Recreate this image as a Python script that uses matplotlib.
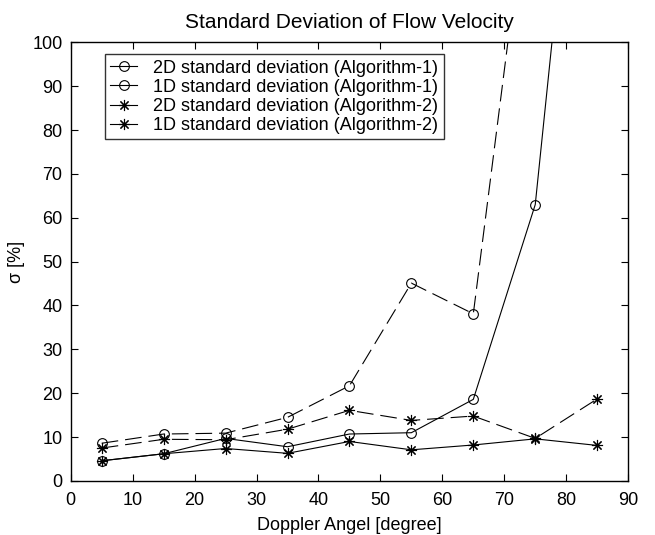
import numpy as np
import matplotlib
matplotlib.use("Agg")
import matplotlib.pyplot as plt
from matplotlib.lines import Line2D

plt.rcParams['font.family'] = ['Liberation Sans', 'DejaVu Sans']
plt.rcParams['lines.scale_dashes'] = False

# doppler angles [degree]
angle = [5, 15, 25, 35, 45, 55, 65, 75, 85]

# standard deviations [%]
std_2d_alg1 = [4.6, 6.2, 9.7, 7.8, 10.7, 11.0, 18.6, 63.0, 200.0]
std_1d_alg1 = [8.6, 10.7, 10.9, 14.5, 21.7, 45.1, 38.1, 149.0, 260.0]
std_2d_alg2 = [4.6, 6.2, 7.4, 6.3, 9.0, 7.1, 8.2, 9.6, 8.1]
std_1d_alg2 = [7.5, 9.5, 9.4, 11.8, 16.1, 13.8, 14.8, 9.7, 18.7]

labels = [
    '2D standard deviation (Algorithm-1)',
    '1D standard deviation (Algorithm-1)',
    '2D standard deviation (Algorithm-2)',
    '1D standard deviation (Algorithm-2)',
]

fig = plt.figure(figsize=(6.55, 5.35), dpi=100)
ax = fig.add_axes([0.108, 0.101, 0.851, 0.820])

dash = (12, 5)
lw = 0.8
star = (8, 2, 0)  # matlab style asterisk
circ_kw = dict(color='black', lw=lw, marker='o', ms=7, mfc='none', mew=0.8)
star_kw = dict(color='black', lw=lw, marker=star, ms=8, mew=0.8)

ax.plot(angle, std_2d_alg1, **circ_kw)
ax.plot(angle, std_1d_alg1, dashes=dash, **circ_kw)
ax.plot(angle, std_2d_alg2, **star_kw)
ax.plot(angle, std_1d_alg2, dashes=dash, **star_kw)

# legend shows solid line samples
handles = [Line2D([], [], **circ_kw), Line2D([], [], **circ_kw),
           Line2D([], [], **star_kw), Line2D([], [], **star_kw)]
leg = ax.legend(handles, labels, loc='upper left', bbox_to_anchor=(0.061, 0.973),
                fontsize=13, handlelength=1.5, handletextpad=0.9,
                labelspacing=0.12, borderpad=0.3, fancybox=False,
                frameon=True, borderaxespad=0)
leg.get_frame().set_edgecolor('black')
leg.get_frame().set_linewidth(1.0)

ax.set_xlim(0, 90)
ax.set_ylim(0, 100)
ax.set_xticks(np.arange(0, 91, 10))
ax.set_yticks(np.arange(0, 101, 10))
ax.tick_params(direction='in', top=True, right=True, labelsize=13,
               length=5, width=0.8)
ax.tick_params(axis='x', pad=8)
ax.tick_params(axis='y', pad=6)
for s in ax.spines.values():
    s.set_linewidth(1.0)

ax.set_title('Standard Deviation of Flow Velocity', fontsize=15, pad=10)
ax.set_xlabel('Doppler Angel [degree]', fontsize=13, labelpad=6)
ax.set_ylabel('σ [%]', fontsize=13, labelpad=5)

fig.savefig('out.png', dpi=100)
